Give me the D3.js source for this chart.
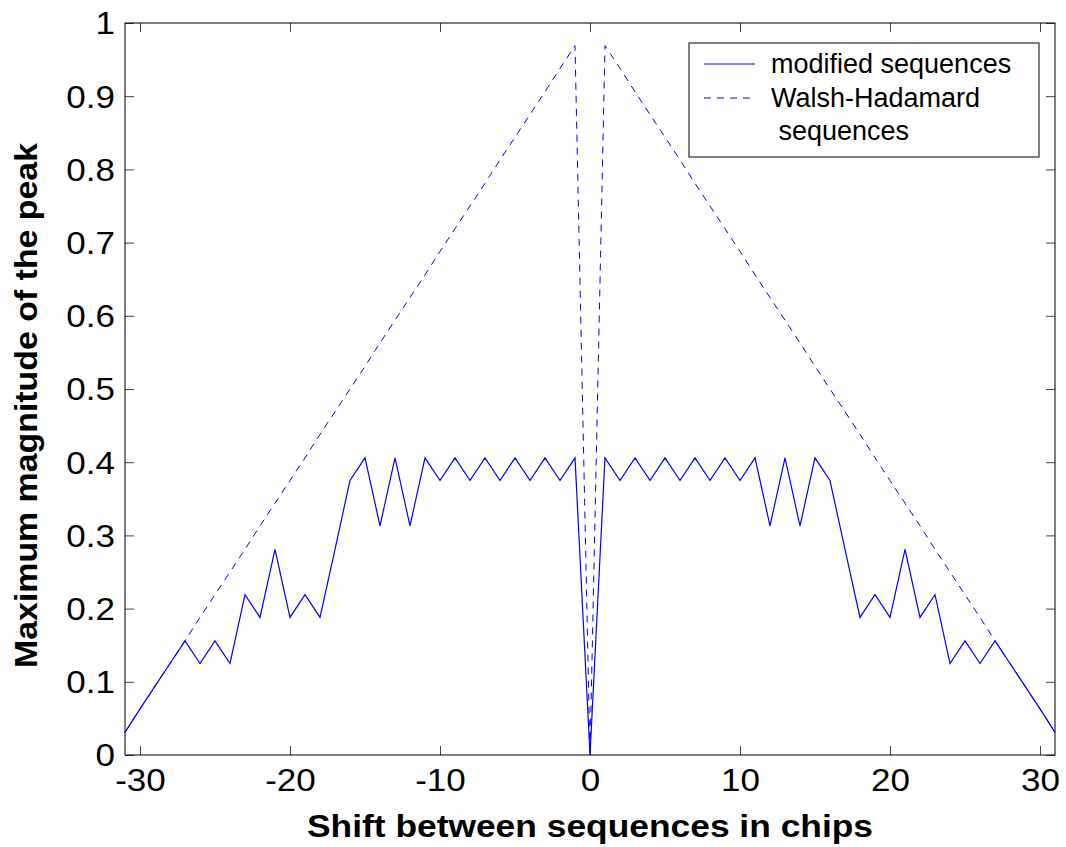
<!DOCTYPE html>
<html>
<head>
<meta charset="utf-8">
<script src="https://cdn.jsdelivr.net/npm/d3@7"></script>
<style>
  body { margin: 0; background: #fff; }
  text { font-family: Arial, "Liberation Sans", sans-serif; }
</style>
</head>
<body>
<div id="chart"></div>
<script>
// shift in chips
let shifts = [-31, -30, -29, -28, -27, -26, -25, -24, -23, -22, -21, -20, -19, -18, -17, -16,
    -15, -14, -13, -12, -11, -10, -9, -8, -7, -6, -5, -4, -3, -2, -1, 0,
    1, 2, 3, 4, 5, 6, 7, 8, 9, 10, 11, 12, 13, 14, 15,
    16, 17, 18, 19, 20, 21, 22, 23, 24, 25, 26, 27, 28, 29, 30, 31];

// modified sequences (solid)
let modified = [0.031, 0.063, 0.094, 0.125, 0.156, 0.125, 0.156, 0.125, 0.219, 0.188, 0.281, 0.188, 0.219, 0.188, 0.281, 0.375,
    0.406, 0.313, 0.406, 0.313, 0.406, 0.375, 0.406, 0.375, 0.406, 0.375, 0.406, 0.375, 0.406, 0.375, 0.406, 0.0,
    0.406, 0.375, 0.406, 0.375, 0.406, 0.375, 0.406, 0.375, 0.406, 0.375, 0.406, 0.313, 0.406, 0.313, 0.406,
    0.375, 0.281, 0.188, 0.219, 0.188, 0.281, 0.188, 0.219, 0.125, 0.156, 0.125, 0.156, 0.125, 0.094, 0.063, 0.031];

// Walsh-Hadamard sequences (dashed)
let walsh = [0.031, 0.063, 0.094, 0.125, 0.156, 0.188, 0.219, 0.25, 0.281, 0.313, 0.344, 0.375, 0.406, 0.438, 0.469, 0.5,
    0.531, 0.563, 0.594, 0.625, 0.656, 0.688, 0.719, 0.75, 0.781, 0.813, 0.844, 0.875, 0.906, 0.938, 0.969, 0.0,
    0.969, 0.938, 0.906, 0.875, 0.844, 0.813, 0.781, 0.75, 0.719, 0.688, 0.656, 0.625, 0.594, 0.563, 0.531,
    0.5, 0.469, 0.438, 0.406, 0.375, 0.344, 0.313, 0.281, 0.25, 0.219, 0.188, 0.156, 0.125, 0.094, 0.063, 0.031];

let xTicks = [-30, -20, -10, 0, 10, 20, 30];
let yTicks = [0, 0.1, 0.2, 0.3, 0.4, 0.5, 0.6, 0.7, 0.8, 0.9, 1];
let legendLabels = ["modified sequences", "Walsh-Hadamard", " sequences"];

let width = 1066, height = 847;
let margin = {top: 23, right: 11, bottom: 92, left: 125};
let w = width - margin.left - margin.right;
let h = height - margin.top - margin.bottom;

let svg = d3.select("#chart")
    .append("svg")
    .attr("width", width)
    .attr("height", height)
    .style("background", "#fff");

let g = svg.append("g")
    .attr("transform", `translate(${margin.left}, ${margin.top})`);

let x = d3.scaleLinear().domain([-31, 31]).range([0, w]);
let y = d3.scaleLinear().domain([0, 1]).range([h, 0]);

// ticks inside the box, on all four sides (matlab style)
let tickLen = 9;
let stretch = 1.13;   // the original labels are a bit wider than arial
let fmtX = d => String(d);   // plain hyphen, not unicode minus
let fmtY = d => d === 0 || d === 1 ? String(d) : d3.format(".1f")(d);

let axBottom = g.append("g")
    .attr("transform", `translate(0, ${h})`)
    .call(d3.axisBottom(x).tickValues(xTicks).tickSizeInner(-tickLen).tickSizeOuter(0).tickPadding(14).tickFormat(fmtX));
let axTop = g.append("g")
    .call(d3.axisTop(x).tickValues(xTicks).tickSizeInner(-tickLen).tickSizeOuter(0).tickFormat(""));
let axLeft = g.append("g")
    .call(d3.axisLeft(y).tickValues(yTicks).tickSizeInner(-tickLen).tickSizeOuter(0).tickFormat(fmtY));
let axRight = g.append("g")
    .attr("transform", `translate(${w}, 0)`)
    .call(d3.axisRight(y).tickValues(yTicks).tickSizeInner(-tickLen).tickSizeOuter(0).tickFormat(""));

[axBottom, axTop, axLeft, axRight].forEach(function (a) {
    a.select(".domain").remove();
    a.selectAll(".tick line").attr("stroke", "#444");
    a.selectAll("text")
        .attr("fill", "#000")
        .style("font-size", "31px")
        .style("font-family", "Arial, 'Liberation Sans', sans-serif");
});
axBottom.selectAll("text")
    .attr("dy", "0.71em")
    .attr("transform", `scale(${stretch},1)`);
axLeft.selectAll("text")
    .attr("dy", "0.35em")
    .attr("x", -10 / stretch)
    .attr("transform", `scale(${stretch},1)`);

// box
g.append("rect")
    .attr("x", 0).attr("y", 0)
    .attr("width", w).attr("height", h)
    .attr("fill", "none")
    .attr("stroke", "#000")
    .attr("stroke-width", 1);

let points = shifts.map((s, i) => ({s: s, m: modified[i], wh: walsh[i]}));

let lineWalsh = d3.line().x(d => x(d.s)).y(d => y(d.wh));
let lineMod = d3.line().x(d => x(d.s)).y(d => y(d.m));

g.append("path")
    .datum(points)
    .attr("fill", "none")
    .attr("stroke", "#0000ff")
    .attr("stroke-width", 1)
    .attr("stroke-dasharray", "7,6")
    .attr("d", lineWalsh);

g.append("path")
    .datum(points)
    .attr("fill", "none")
    .attr("stroke", "#0000ff")
    .attr("stroke-width", 1.2)
    .attr("d", lineMod);

// axis labels
svg.append("text")
    .attr("x", margin.left + w / 2 - 283)
    .attr("y", 837)
    .attr("textLength", 566)
    .attr("lengthAdjust", "spacingAndGlyphs")
    .style("font-size", "31px")
    .style("font-weight", "bold")
    .text("Shift between sequences in chips");

svg.append("text")
    .attr("transform", "translate(37, 668) rotate(-90)")
    .attr("textLength", 525)
    .attr("lengthAdjust", "spacingAndGlyphs")
    .style("font-size", "31px")
    .style("font-weight", "bold")
    .text("Maximum magnitude of the peak");

// legend
let legend = svg.append("g");
legend.append("rect")
    .attr("x", 689).attr("y", 43)
    .attr("width", 350).attr("height", 114)
    .attr("fill", "#fff")
    .attr("stroke", "#000")
    .attr("stroke-width", 1);
legend.append("line")
    .attr("x1", 704).attr("x2", 755).attr("y1", 64).attr("y2", 64)
    .attr("stroke", "#0000ff").attr("stroke-width", 1);
legend.append("line")
    .attr("x1", 704).attr("x2", 755).attr("y1", 98).attr("y2", 98)
    .attr("stroke", "#0000ff").attr("stroke-width", 1)
    .attr("stroke-dasharray", "7,6");
legend.selectAll("text.lab")
    .data(legendLabels)
    .join("text")
    .attr("class", "lab")
    .attr("x", 771)
    .attr("y", (d, i) => 73 + i * 33.5)
    .attr("xml:space", "preserve")
    .style("white-space", "pre")
    .style("font-size", "27px")
    .text(d => d);
</script>
</body>
</html>
